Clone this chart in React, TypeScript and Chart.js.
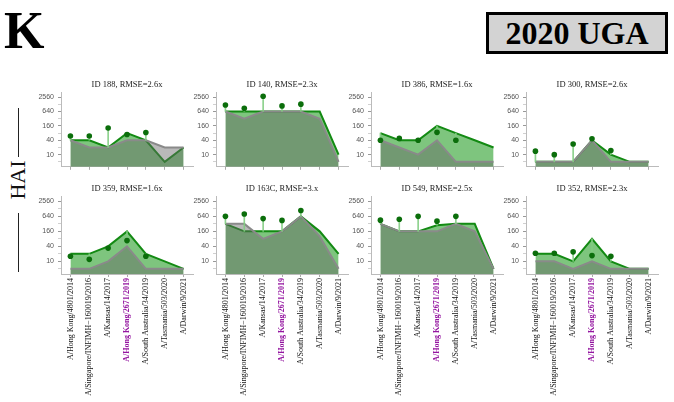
import React, { useEffect, useRef } from 'react';
import { Chart, registerables } from 'chart.js';

Chart.register(...registerables);

// ---------- data ----------
const strains = [
  'A/Hong Kong/4801/2014',
  'A/Singapore/INFIMH−160019/2016',
  'A/Kansas/14/2017',
  'A/Hong Kong/2671/2019',
  'A/South Australia/34/2019',
  'A/Tasmania/503/2020',
  'A/Darwin/9/2021',
];
const highlightStrainIndex = 3;

const yTickLabels = [10, 40, 160, 640, 2560];
const yMinorTicks = [5, 20, 80, 320, 1280];

const panelTitles = [
  'ID 188, RMSE=2.6x',
  'ID 140, RMSE=2.3x',
  'ID 386, RMSE=1.6x',
  'ID 300, RMSE=2.6x',
  'ID 359, RMSE=1.6x',
  'ID 163C, RMSE=3.x',
  'ID 549, RMSE=2.5x',
  'ID 352, RMSE=2.3x',
];

// green (model) line, gray line, measured dots
const green188 = [40, 40, 20, 80, 40, 5, 20];
const gray188 = [40, 20, 20, 40, 40, 20, 20];
const dots188 = [60, 60, 130, 70, 85, null, null];

const green140 = [640, 640, 640, 640, 640, 640, 10];
const gray140 = [640, 320, 640, 640, 640, 320, 5];
const dots140 = [1200, 870, 2800, 1100, 1300, null, null];

const green386 = [80, 40, 40, 160, 80, 40, 20];
const gray386 = [40, 20, 10, 40, 5, 5, 5];
const dots386 = [40, 48, 40, 86, 40, null, null];

const green300 = [5, 5, 5, 40, 10, 5, 5];
const gray300 = [5, 5, 5, 40, 5, 5, 5];
const dots300 = [14, 10, 28, 46, 15, null, null];

const green359 = [20, 20, 40, 160, 20, 10, 5];
const gray359 = [5, 5, 10, 40, 5, 5, 5];
const dots359 = [16, 12, 34, 68, 16, null, null];

const green163C = [320, 160, 160, 160, 640, 160, 20];
const gray163C = [320, 320, 80, 160, 640, 100, 5];
const dots163C = [640, 800, 520, 440, 1100, null, null];

const green549 = [320, 160, 160, 280, 320, 320, 5];
const gray549 = [320, 160, 160, 160, 320, 160, 5];
const dots549 = [450, 490, 640, 410, 640, null, null];

const green352 = [20, 20, 10, 80, 10, 5, 5];
const gray352 = [10, 10, 5, 10, 5, 5, 5];
const dots352 = [21, 21, 24, 17, 16, null, null];

const panelGreen = [green188, green140, green386, green300, green359, green163C, green549, green352];
const panelGray = [gray188, gray140, gray386, gray300, gray359, gray163C, gray549, gray352];
const panelDots = [dots188, dots140, dots386, dots300, dots359, dots163C, dots549, dots352];

// ---------- layout ----------
const COL_AXIS_X = [61, 216, 371, 526];
const ROW_CANVAS_TOP = [77, 181];
const Y_AXIS_W = 30;
const PLOT_W = 132;
const RIGHT_PAD = 4;
const TITLE_H = 15;
const PLOT_H = 78;
const XAXIS_H = [5, 125];
const Y_MIN = 3.1;
const Y_MAX = 4200;

const SERIF = '"Liberation Serif", "Times New Roman", serif';
const SANS = '"Liberation Sans", Arial, sans-serif';

function Panel({ idx }: { idx: number }) {
  const ref = useRef<HTMLCanvasElement | null>(null);
  const row = idx < 4 ? 0 : 1;
  const col = idx % 4;
  const width = Y_AXIS_W + PLOT_W + RIGHT_PAD;
  const height = TITLE_H + PLOT_H + XAXIS_H[row];

  useEffect(() => {
    if (!ref.current) return;
    const green = panelGreen[idx];
    const gray = panelGray[idx];
    const dots = panelDots[idx];
    const stems = dots.map((d, i) => (d == null ? null : [green[i], d]));
    const bottomRow = row === 1;

    const chart = new Chart(ref.current, {
      type: 'line',
      data: {
        labels: strains,
        datasets: [
          {
            type: 'line',
            data: dots as any,
            showLine: false,
            pointRadius: 2.8,
            pointBackgroundColor: '#0b6e0b',
            pointBorderWidth: 0,
            order: 0,
          },
          {
            type: 'bar',
            data: stems as any,
            backgroundColor: 'rgba(130,205,130,0.9)',
            barThickness: 1,
            borderWidth: 0,
            order: 1,
          } as any,
          {
            type: 'line',
            data: gray,
            borderColor: '#8a8a8a',
            borderWidth: 2,
            backgroundColor: 'rgba(100,100,100,0.45)',
            fill: 'start',
            pointRadius: 0,
            tension: 0,
            order: 2,
          },
          {
            type: 'line',
            data: green,
            borderColor: '#138a13',
            borderWidth: 2,
            backgroundColor: 'rgba(20,150,20,0.55)',
            fill: 'start',
            pointRadius: 0,
            tension: 0,
            order: 3,
          },
        ],
      },
      options: {
        responsive: false,
        animation: false,
        devicePixelRatio: 1,
        layout: { padding: { top: 0, left: 0, right: RIGHT_PAD, bottom: 0 } },
        plugins: {
          legend: { display: false },
          tooltip: { enabled: false },
          title: {
            display: true,
            text: panelTitles[idx],
            fullSize: false,
            color: '#222',
            font: { family: SERIF, size: 8.5, weight: 'normal', lineHeight: '11px' },
            padding: { top: 2, bottom: 2 },
          },
        },
        scales: {
          x: {
            type: 'category',
            offset: true,
            grid: { offset: false, drawOnChartArea: false, drawTicks: true, tickLength: 3, color: '#aaa' },
            border: { color: '#bbb', width: 1 },
            ticks: bottomRow
              ? {
                  display: true,
                  autoSkip: false,
                  minRotation: 90,
                  maxRotation: 90,
                  padding: 1,
                  color: (ctx: any) => (ctx.index === highlightStrainIndex ? '#9416a0' : '#111'),
                  font: (ctx: any) => ({
                    family: SERIF,
                    size: 8,
                    weight: ctx.index === highlightStrainIndex ? 'bold' : 'normal',
                  }),
                }
              : { display: false },
            afterFit: (s: any) => {
              s.height = XAXIS_H[row];
            },
          } as any,
          y: {
            type: 'logarithmic',
            min: Y_MIN,
            max: Y_MAX,
            afterBuildTicks: (s: any) => {
              s.ticks = [...yMinorTicks, ...yTickLabels]
                .sort((a, b) => a - b)
                .map((v) => ({ value: v }));
            },
            ticks: {
              autoSkip: false,
              padding: 4,
              color: '#555',
              font: { family: SANS, size: 7 },
              callback: (v: any) => (yTickLabels.includes(Number(v)) ? String(v) : ''),
            },
            grid: {
              drawOnChartArea: false,
              drawTicks: true,
              tickLength: 3,
              color: (ctx: any) =>
                ctx.tick && yTickLabels.includes(ctx.tick.value) ? '#999' : '#d0d0d0',
            },
            border: { color: '#bbb', width: 1 },
            afterFit: (s: any) => {
              s.width = Y_AXIS_W;
            },
          } as any,
        },
      },
    });
    return () => chart.destroy();
  }, [idx]);

  return (
    <canvas
      ref={ref}
      width={width}
      height={height}
      style={{
        position: 'absolute',
        left: COL_AXIS_X[col] - Y_AXIS_W,
        top: ROW_CANVAS_TOP[row],
        width,
        height,
      }}
    />
  );
}

export default function App() {
  return (
    <div
      style={{
        position: 'fixed',
        left: 0,
        top: 0,
        width: 674,
        height: 402,
        background: '#fff',
        overflow: 'hidden',
      }}
    >
      <div
        style={{
          position: 'absolute',
          left: 4,
          top: 5,
          fontFamily: SERIF,
          fontWeight: 'bold',
          fontSize: 52,
          lineHeight: '52px',
          color: '#000',
        }}
      >
        K
      </div>
      <div
        style={{
          position: 'absolute',
          left: 486,
          top: 12,
          width: 182,
          height: 42,
          boxSizing: 'border-box',
          border: '3px solid #000',
          background: '#d3d3d3',
          display: 'flex',
          alignItems: 'center',
          justifyContent: 'center',
          fontFamily: SERIF,
          fontWeight: 'bold',
          fontSize: 32,
          lineHeight: 1,
          color: '#000',
        }}
      >
        2020 UGA
      </div>
      <div style={{ position: 'absolute', left: 17.5, top: 108, width: 1, height: 49, background: '#222' }} />
      <div style={{ position: 'absolute', left: 17.5, top: 213, width: 1, height: 59, background: '#222' }} />
      <div
        style={{
          position: 'absolute',
          left: 18,
          top: 180,
          transform: 'translate(-50%, -50%) rotate(-90deg)',
          fontFamily: SERIF,
          fontSize: 22,
          lineHeight: 1,
          whiteSpace: 'nowrap',
          color: '#111',
        }}
      >
        HAI
      </div>
      {panelTitles.map((_, i) => (
        <Panel key={i} idx={i} />
      ))}
    </div>
  );
}
